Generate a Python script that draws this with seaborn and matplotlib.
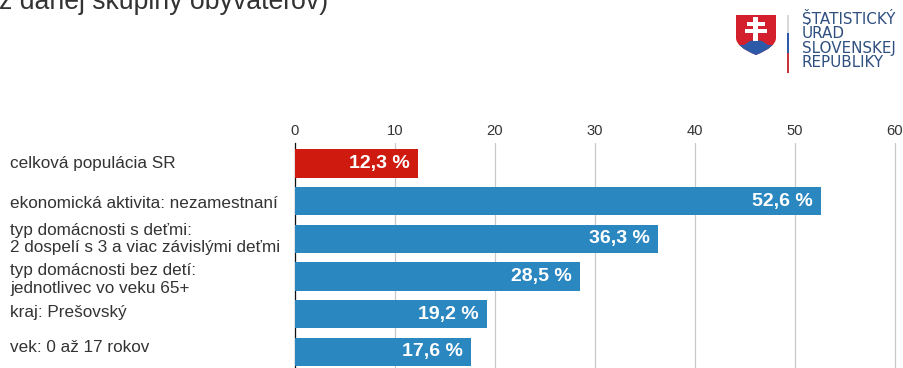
import matplotlib
matplotlib.use("Agg")
import matplotlib.pyplot as plt
from matplotlib.patches import PathPatch, Polygon, Rectangle
from matplotlib.path import Path
import pandas as pd
import seaborn as sns

W, H = 904, 368

categories = [
    "celková populácia SR",
    "ekonomická aktivita: nezamestnaní",
    "typ domácnosti s deťmi:\n2 dospelí s 3 a viac závislými deťmi",
    "typ domácnosti bez detí:\njednotlivec vo veku 65+",
    "kraj: Prešovský",
    "vek: 0 až 17 rokov",
]
values = [12.3, 52.6, 36.3, 28.5, 19.2, 17.6]
groups = ["total", "group", "group", "group", "group", "group"]
group_colors = {"total": "#cf1a10", "group": "#2b87c0"}
x_ticks = [0, 10, 20, 30, 40, 50, 60]
label_nudge_px = [0, 2, 0, 3, -1.5, -4.5]
heading = "z danej skupiny obyvateľov)"
logo_lines = ["ŠTATISTICKÝ", "ÚRAD", "SLOVENSKEJ", "REPUBLIKY"]

sns.set_theme(style="white")
plt.rcParams["font.family"] = ["Liberation Sans", "DejaVu Sans"]

fig = plt.figure(figsize=(W / 100, H / 100), dpi=100)
ax = fig.add_axes([295 / W, 0, (W - 295) / W, 1 - 143 / H])

frame = pd.DataFrame({"category": categories, "value": values, "group": groups})
sns.barplot(
    data=frame, y="category", x="value", hue="group", palette=group_colors,
    dodge=False, width=0.75, legend=False, saturation=1, linewidth=0, ax=ax,
)

ax.set_xlim(0, (W - 295) / 10)
ax.set_ylim(5.43, -0.544)
ax.set_xticks(x_ticks)
ax.set_xlabel("")
ax.set_ylabel("")
ax.set_yticks(range(len(categories)))
ax.set_yticklabels([])
ax.xaxis.tick_top()
ax.tick_params(axis="x", length=0, pad=3.8, labelsize=10.6, labelcolor="#333333")
ax.tick_params(axis="y", length=0)

ax.set_axisbelow(True)
ax.xaxis.grid(True, color="#c8c8c8", linewidth=0.9)
for side in ("top", "right", "bottom"):
    ax.spines[side].set_visible(False)
ax.spines["left"].set_color("#111111")
ax.spines["left"].set_linewidth(0.9)
ax.spines["left"].set_zorder(0.9)

# Category names sit in a left-aligned column away from the axis
label_transform = ax.get_yaxis_transform()
for pos, (name, nudge) in enumerate(zip(categories, label_nudge_px)):
    ax.annotate(
        name, xy=(0, pos), xycoords=label_transform,
        xytext=(10 - 295, -nudge), textcoords="offset pixels",
        ha="left", va="center", fontsize=12.3, color="#333333",
        linespacing=1.2, annotation_clip=False,
    )

# Value labels inside the bar ends
for container in ax.containers:
    texts = ax.bar_label(
        container,
        labels=[f"{v:.1f} %".replace(".", ",") for v in container.datavalues],
        padding=-5.8, color="white", fontweight="bold", fontsize=14,
    )
    for text in texts:
        text.set_ha("right")

# Overlay in pixel coordinates for the heading and the logo
overlay = fig.add_axes([0, 0, 1, 1], zorder=5)
overlay.set_xlim(0, W)
overlay.set_ylim(H, 0)
overlay.axis("off")

overlay.text(-1, 9, heading, ha="left", va="baseline", fontsize=19.2, color="#333333")

# Shield outline shared by the red field and the blue hills
shield = Path(
    [(736, 15), (776, 15), (776, 38), (776, 47), (756, 55), (736, 47), (736, 38), (736, 15)],
    [Path.MOVETO, Path.LINETO, Path.LINETO, Path.CURVE3, Path.CURVE3, Path.CURVE3, Path.CURVE3, Path.CLOSEPOLY],
)
shield_patch = PathPatch(shield, facecolor="#d4202c", edgecolor="none")
overlay.add_patch(shield_patch)
hills = Polygon([(734, 45), (744, 45), (750, 41), (756, 40), (762, 41), (768, 45), (778, 45), (778, 56), (734, 56)],
                facecolor="#2c5aa8", edgecolor="none")
overlay.add_patch(hills)
hills.set_clip_path(shield_patch)
for x0, y0, w, h in [(753.5, 17, 5, 24), (747, 22, 18, 3.5), (745, 28.5, 22, 4.5)]:
    overlay.add_patch(Rectangle((x0, y0), w, h, facecolor="white", edgecolor="none"))

# Tricolour divider
for y0, h, color in [(15, 18, "#d9d9d9"), (33, 20, "#2c5aa8"), (53, 19.5, "#c8323c")]:
    overlay.add_patch(Rectangle((787, y0), 2.5, h, facecolor=color, edgecolor="none"))

for y, line in zip([24, 38, 53, 67], logo_lines):
    overlay.text(802, y, line, ha="left", va="baseline", fontsize=10.9,
                 fontfamily="DejaVu Sans", color="#2f4f80")

fig.savefig("out.png", dpi=100, facecolor="white")
